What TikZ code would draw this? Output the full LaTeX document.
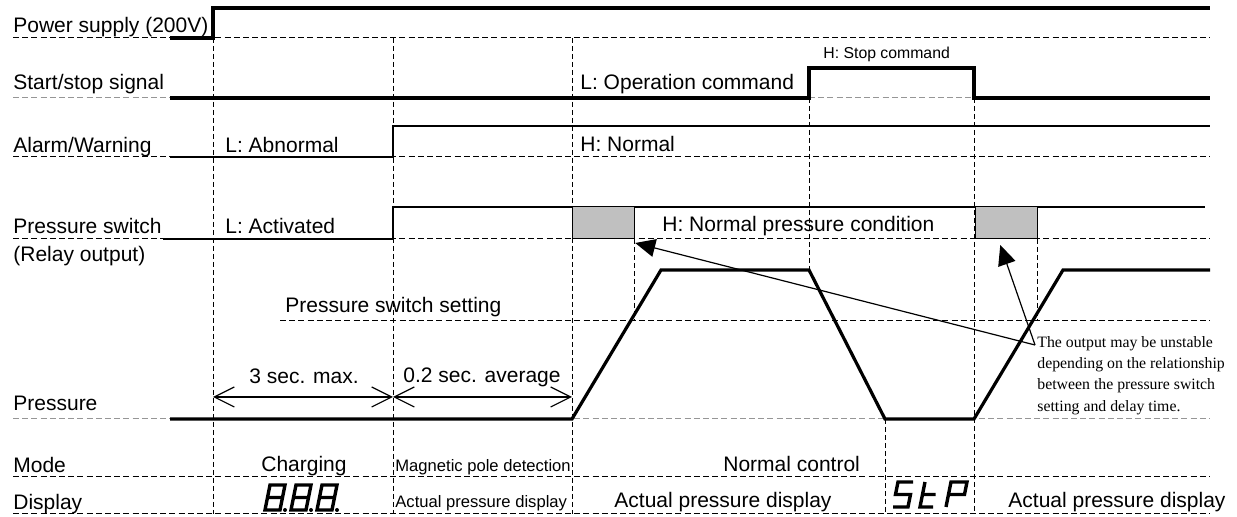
\documentclass[tikz,border=0pt]{standalone}
\usepackage{fontspec}
\setmainfont{Liberation Sans}
\newfontfamily\notefont{Liberation Serif}
\usepackage{tikz}
\usetikzlibrary{arrows.meta, positioning, calc}
\definecolor{mydark}{RGB}{0,0,0}
\definecolor{dashgray}{RGB}{150,150,150}
\definecolor{glitchgray}{RGB}{192,192,192}
\tikzset{
  sigthick/.style={line width=1.6pt, color=mydark},
  sigthin/.style={line width=1pt, color=mydark},
  gridline/.style={line width=0.5pt, color=mydark, dash pattern=on 3pt off 1.6pt},
  grayline/.style={line width=0.5pt, color=dashgray, dash pattern=on 3pt off 1.6pt},
  timeline/.style={line width=0.5pt, color=mydark, dash pattern=on 2.5pt off 1.5pt},
  lbl/.style={anchor=base west, inner sep=0pt, font=\fontsize{10.5}{12.6}\selectfont},
  ctrlbl/.style={anchor=base, inner sep=0pt, font=\fontsize{10.5}{12.6}\selectfont},
  smalllbl/.style={anchor=base west, inner sep=0pt, font=\fontsize{8.3}{10}\selectfont},
  tinylbl/.style={anchor=base west, inner sep=0pt, font=\fontsize{7.9}{9.5}\selectfont},
  notelbl/.style={anchor=north west, inner sep=0pt, align=left,
    font=\notefont\fontsize{7.9}{10.65}\selectfont},
  glitch/.style={rectangle, draw=mydark, fill=glitchgray, line width=0.6pt,
    minimum width=31pt, minimum height=16pt, inner sep=0pt, anchor=south west},
  dimarrow/.style={{Straight Barb[length=10pt,width=10pt]}-{Straight Barb[length=10pt,width=10pt]},
    line width=0.6pt, color=mydark},
  callout/.style={-{Triangle[length=10pt,width=9pt]}, line width=0.6pt, color=mydark},
  segline/.style={line width=1.7pt, color=mydark, line join=miter}
}
% seven segment glyph: x, y of lower left corner, path
\newcommand{\sevseg}[3]{%
  \begin{scope}[shift={(#1,#2)}, xslant=0.2]
    \draw[segline] #3;
  \end{scope}}

\begin{document}
\begin{tikzpicture}[x=0.5pt, y=-0.5pt]
  \useasboundingbox (0,0) rectangle (1237,517);

  % ── Row guide lines ───────────────────────────────────────────────────────
  \draw[gridline] (13,38)  -- (1210,38);
  \draw[grayline] (13,98)  -- (170,98);
  \draw[grayline] (809,98) -- (974,98);
  \draw[gridline] (13,157) -- (1210,157);
  \draw[gridline] (13,239) -- (1210,239);
  \draw[gridline] (280,321) -- (1210,321);
  \draw[grayline] (13,419) -- (1210,419);
  \draw[gridline] (13,477) -- (1210,477);
  \draw[gridline] (13,514) -- (1210,514);

  % ── Time markers ──────────────────────────────────────────────────────────
  \draw[timeline] (213,38)  -- (213,514);
  \draw[timeline] (393,38)  -- (393,514);
  \draw[timeline] (572,38)  -- (572,514);
  \draw[timeline] (809,98)  -- (809,270);
  \draw[timeline] (974,98)  -- (974,514);
  \draw[timeline] (885,419) -- (885,514);
  \draw[timeline] (634,239) -- (634,321);
  \draw[timeline] (1037,239) -- (1037,321);

  % ── Signals ───────────────────────────────────────────────────────────────
  \draw[sigthick] (170,38) -- (213,38) -- (213,8) -- (1210,8);
  \draw[sigthick] (170,98) -- (809,98) -- (809,68) -- (974,68) -- (974,98) -- (1210,98);
  \draw[sigthin]  (170,157) -- (393,157) -- (393,126) -- (1210,126);
  \draw[sigthin]  (163,239) -- (393,239) -- (393,207) -- (1205,207);
  \draw[sigthick] (170,419) -- (572,419) -- (661,270) -- (809,270) -- (885,419)
                  -- (974,419) -- (1063,270) -- (1210,270);

  % ── Unstable output zones ─────────────────────────────────────────────────
  \node[glitch] (gl1) at (572,239) {};
  \node[glitch] (gl2) at (975,239) {};

  % ── Row labels ────────────────────────────────────────────────────────────
  \node[lbl] (lpow)  at (13,33)  {Power supply (200V)};
  \node[lbl] (lss)   at (13,90)  {Start/stop signal};
  \node[lbl] (lalm)  at (13,153) {Alarm/Warning};
  \node[lbl] (lpsw)  at (13,234) {Pressure switch};
  \node[lbl] (lrly)  at (13,262) {(Relay output)};
  \node[lbl] (lpre)  at (13,411) {Pressure};
  \node[lbl] (lmode) at (13,473) {Mode};
  \node[lbl] (ldisp) at (13,510) {Display};

  % ── State labels ──────────────────────────────────────────────────────────
  \node[lbl]     (abn) at (225,153) {L: Abnormal};
  \node[lbl]     (opc) at (580,90)  {L: Operation command};
  \node[tinylbl] (stc) at (823,59)  {H: Stop command};
  \node[lbl]     (nrm) at (580,152) {H: Normal};
  \node[lbl]     (act) at (225,234) {L: Activated};
  \node[lbl]     (npc) at (662,232) {H: Normal pressure condition};
  \node[lbl]     (pss) at (285,313) {Pressure switch setting};

  % ── Durations ─────────────────────────────────────────────────────────────
  \coordinate (d1) at (213,397);
  \coordinate (d2) at (393,397);
  \coordinate (d3) at (572,397);
  \draw[dimarrow] (d1) -- (d2);
  \draw[dimarrow] (d2) -- (d3);
  \node[lbl] (t3s) at (249,384) {3 sec. max.};
  \node[lbl] (t02) at (403,383) {0.2 sec. average};

  % ── Mode / display rows ───────────────────────────────────────────────────
  \node[ctrlbl]   (chg)  at (304,472)  {Charging};
  \node[smalllbl] (mpd)  at (395,472)  {Magnetic pole detection};
  \node[smalllbl] (apd1) at (395,508)  {Actual pressure display};
  \node[lbl]      (nctl) at (723,472)  {Normal control};
  \node[lbl]      (apd2) at (614,508)  {Actual pressure display};
  \node[lbl]      (apd3) at (1008,508) {Actual pressure display};

  % 8.8.8.
  \foreach \dx in {265,291,317}{
    \sevseg{\dx}{510}{(0,0) rectangle (15,-25) (0,-12.5) -- (15,-12.5)}
    \fill[mydark] (\dx+20,510) circle (2);
  }
  % StP
  \sevseg{893}{507}{(15,-25) -- (0,-25) -- (0,-12.5) -- (15,-12.5) -- (15,0) -- (0,0)}
  \sevseg{920}{507}{(0,-25) -- (0,0) -- (13,0) (0,-12.5) -- (13,-12.5)}
  \sevseg{946}{507}{(0,0) -- (0,-25) -- (16,-25) -- (16,-12.5) -- (0,-12.5)}

  % ── Note with callouts ────────────────────────────────────────────────────
  \coordinate (apex) at (1035,345);
  \node[notelbl] (note) at (1037,336) {The output may be unstable\\depending on the relationship\\between the pressure switch\\setting and delay time.};
  \draw[callout] (apex) -- ($(gl1.south east)+(0,4)$);
  \draw[callout] (apex) -- ($(gl2.south west)!0.4!(gl2.south east)+(0,6)$);
\end{tikzpicture}
\end{document}
